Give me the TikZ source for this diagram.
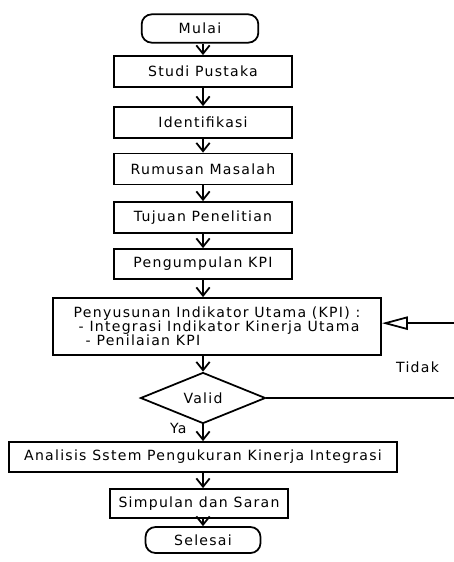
\documentclass[tikz,border=0pt]{standalone}
\usepackage{fontspec}
\setmainfont[LetterSpace=9]{DejaVu Sans}
\usetikzlibrary{positioning,shapes.geometric,arrows.meta}

\tikzset{
	proses/.style={draw,line width=1.5pt,rectangle,minimum width=5.35cm,minimum height=0.93cm,inner sep=2pt},
	terminal/.style={draw,line width=1.5pt,rectangle,rounded corners=0.3cm,minimum width=3.5cm,minimum height=0.85cm},
	keputusan/.style={draw,line width=1.5pt,diamond,aspect=2.45,minimum width=3.75cm,minimum height=1.53cm,inner sep=0pt},
	alur/.style={line width=1.5pt,-{Straight Barb[length=2.5mm,width=4mm,line width=1.5pt]}}
}

\begin{document}
\begin{tikzpicture}[node distance=1.4cm,on grid,font=\fontsize{12}{11.8}\selectfont]
	\useasboundingbox (0,0) rectangle (13.59,-16.86);
	\node[terminal] (mulai) at (6.0,-0.855) {Mulai};
	\node[proses] (studi) [below=1.29cm of mulai,xshift=0.09cm] {Studi Pustaka};
	\node[proses] (identifikasi) [below=1.53cm of studi] {Identifikasi};
	\node[proses] (rumusan) [below=1.395cm of identifikasi] {Rumusan Masalah};
	\node[proses] (tujuan) [below=1.455cm of rumusan] {Tujuan Penelitian};
	\node[proses] (pengumpulan) [below=1.395cm of tujuan,minimum height=0.9cm] {Pengumpulan KPI};
	\node[proses,align=left,minimum width=9.84cm,minimum height=1.71cm] (penyusunan) [below=1.875cm of pengumpulan,xshift=0.42cm]
		{Penyusunan Indikator Utama (KPI) :\\
		\hspace*{0.15cm}- Integrasi Indikator Kinerja Utama\\
		\hspace*{0.36cm}- Penilaian KPI};
	\node[keputusan] (valid) [below=4.02cm of pengumpulan] {Valid};
	\node[proses,minimum width=11.64cm,minimum height=0.9cm] (analisis) [below=1.77cm of valid] {Analisis Sstem Pengukuran Kinerja Integrasi};
	\node[proses,minimum height=0.87cm] (simpulan) [below=1.395cm of analisis,xshift=-0.12cm] {Simpulan dan Saran};
	\node[terminal,minimum width=3.45cm,minimum height=0.78cm] (selesai) [below=1.095cm of simpulan,xshift=0.12cm] {Selesai};
	\coordinate (kanan) at (13.66,0);
	\path[alur]
	(mulai.south -| studi) edge (studi)
	(studi) edge (identifikasi)
	(identifikasi) edge (rumusan)
	(rumusan) edge (tujuan)
	(tujuan) edge (pengumpulan)
	(analisis) edge (analisis |- simpulan.north)
	(simpulan.south -| selesai) edge (selesai);
	\draw[alur] (pengumpulan) -- (pengumpulan |- penyusunan.north);
	\draw[alur] (penyusunan.south -| valid) -- (valid);
	\draw[alur] (valid) -- node[pos=0.25,left=0.35cm] {Ya} (analisis);
	\draw[line width=1.5pt,-{Triangle[open,length=7.8mm,width=4mm,line width=1.5pt]}]
		(valid.east) -- (valid.east -| kanan) -- node[left=0.35cm,yshift=-0.2cm] {Tidak} ([yshift=0.1cm]penyusunan.east -| kanan) -- ([yshift=0.1cm]penyusunan.east);
\end{tikzpicture}
\end{document}
